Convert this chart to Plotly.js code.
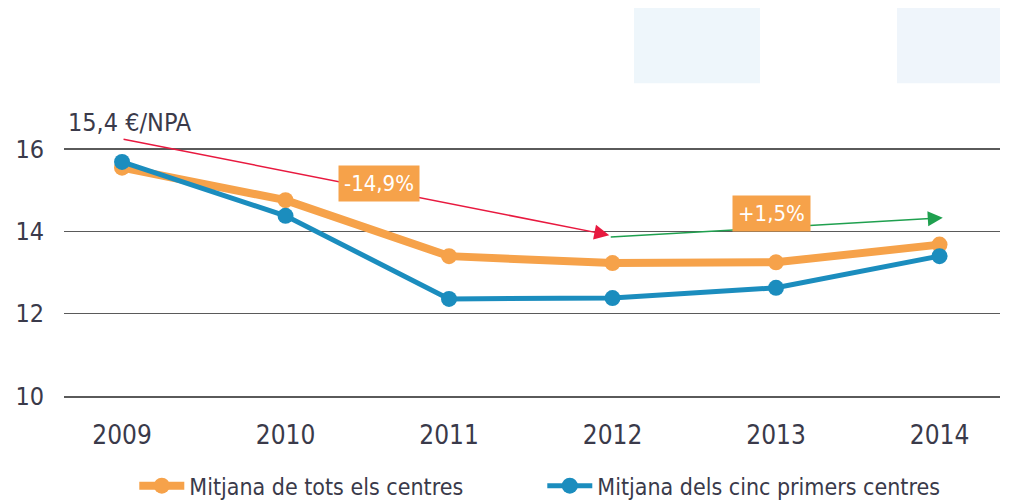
<!DOCTYPE html>
<html><head><meta charset="utf-8">
<script src="https://cdn.plot.ly/plotly-3.0.1.min.js"></script>
<style>html,body{margin:0;padding:0;background:#fff}#chart{width:1009px;height:503px}</style>
</head><body><div id="chart"></div>
<script>
const years = ['2009','2010','2011','2012','2013','2014'];
const allCentres = [15.55, 14.76, 13.4, 13.23, 13.25, 13.68];
const topFive = [15.69, 14.38, 12.36, 12.38, 12.63, 13.4];
const seriesNames = ['Mitjana de tots els centres', 'Mitjana dels cinc primers centres'];
const startLabel = '15,4 €/NPA';
const endLabel = '13,3 €/NPA';
const dropLabel = '-14,9%';
const riseLabel = '+1,5%';
const yTicks = [10, 12, 14, 16];

const FONT = 'DejaVu Sans Condensed, Liberation Sans Narrow, sans-serif';
const ORANGE = '#F6A24A';
const BLUE = '#1B8DBE';
const TXT = '#3a3a4a';

const traces = [
  {x: years, y: allCentres, name: seriesNames[0], type: 'scatter', mode: 'lines+markers',
   line: {color: ORANGE, width: 8}, marker: {color: ORANGE, size: 16}},
  {x: years, y: topFive, name: seriesNames[1], type: 'scatter', mode: 'lines+markers',
   line: {color: BLUE, width: 5}, marker: {color: BLUE, size: 16}}
];

const layout = {
  width: 1009, height: 503,
  margin: {l: 64, r: 9, t: 100, b: 107, autoexpand: false},
  paper_bgcolor: '#fff', plot_bgcolor: '#fff',
  font: {family: FONT, size: 25, color: TXT},
  showlegend: true,
  legend: {orientation: 'h', x: 0.511, xanchor: 'center', y: -0.303, yanchor: 'middle',
           font: {family: FONT, size: 23, color: TXT}, itemwidth: 45, entrywidth: 348,
           entrywidthmode: 'pixels', tracegroupgap: 0},
  xaxis: {type: 'category', range: [-0.355, 5.37], showgrid: false, zeroline: false,
          showline: true, linecolor: '#5a5a5a', linewidth: 1.5,
          ticks: 'outside', ticklen: 15, tickcolor: 'rgba(0,0,0,0)', fixedrange: true,
          tickfont: {family: FONT, size: 26, color: TXT}},
  yaxis: {range: [10, 17.195], tickvals: yTicks, showgrid: true, gridcolor: '#5a5a5a', gridwidth: 1.5,
          zeroline: false, showline: false, ticks: 'outside', ticklen: 14, tickcolor: 'rgba(0,0,0,0)',
          fixedrange: true, tickfont: {family: FONT, size: 25, color: TXT}},
  shapes: [
    {type: 'rect', xref: 'paper', yref: 'paper', x0: 0.609, x1: 0.7436, y0: 1.057, y1: 1.311,
     fillcolor: '#eef6fb', line: {width: 0}, layer: 'below'},
    {type: 'rect', xref: 'paper', yref: 'paper', x0: 0.890, x1: 1.0, y0: 1.057, y1: 1.311,
     fillcolor: '#eff5fb', line: {width: 0}, layer: 'below'}
  ],
  annotations: [
    {x: 2.98, y: 13.91, ax: 0, ay: 16.25, xref: 'x', yref: 'y', axref: 'x', ayref: 'y',
     showarrow: true, arrowhead: 2, arrowsize: 2, arrowwidth: 1.5, arrowcolor: '#E8193F', text: ''},
    {x: 5.02, y: 14.33, ax: 2.98, ay: 13.86, xref: 'x', yref: 'y', axref: 'x', ayref: 'y',
     showarrow: true, arrowhead: 2, arrowsize: 2, arrowwidth: 1.5, arrowcolor: '#1FA04F', text: ''},
    {x: 1.57, y: 15.17, xref: 'x', yref: 'y', text: dropLabel, showarrow: false,
     bgcolor: ORANGE, borderpad: 5, font: {family: FONT, size: 22, color: '#fff'}},
    {x: 3.97, y: 14.44, xref: 'x', yref: 'y', text: riseLabel, showarrow: false,
     bgcolor: ORANGE, borderpad: 5, font: {family: FONT, size: 22, color: '#fff'}},
    {x: -0.34, y: 16.65, xref: 'x', yref: 'y', text: startLabel, showarrow: false, xanchor: 'left',
     font: {family: FONT, size: 25, color: TXT}},
    {x: 5.39, y: 16.64, xref: 'x', yref: 'y', text: endLabel, showarrow: false, xanchor: 'right',
     font: {family: FONT, size: 25, color: TXT}}
  ]
};

Plotly.newPlot('chart', traces, layout, {displayModeBar: false, staticPlot: true});
</script></body></html>
